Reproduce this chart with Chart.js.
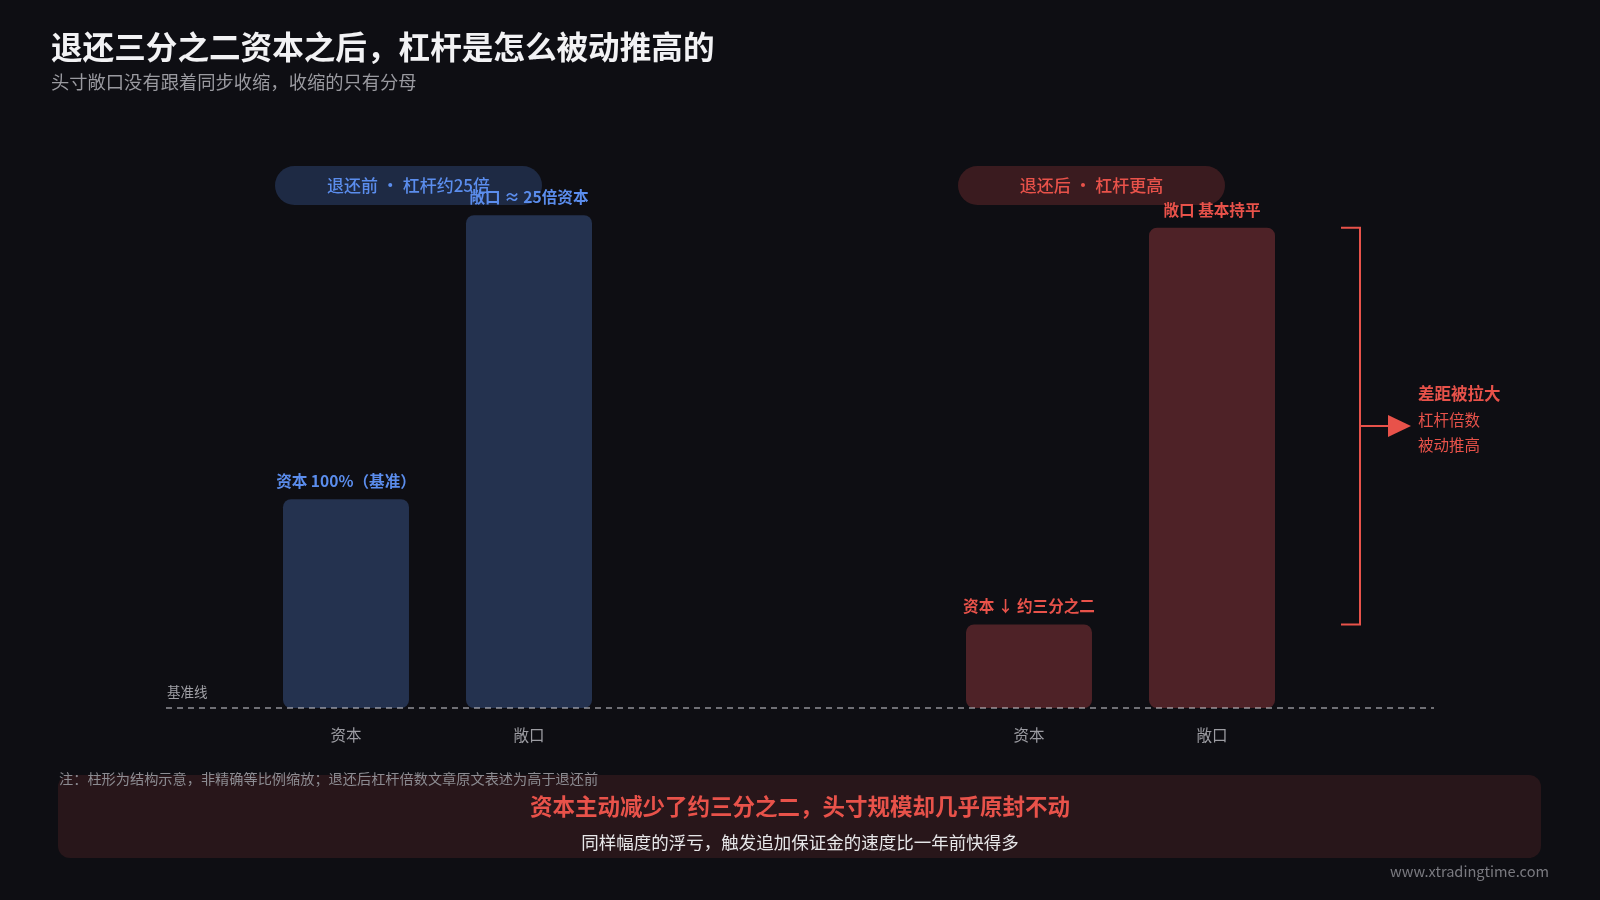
<!DOCTYPE html>
<html lang="zh-CN">
<head>
<meta charset="utf-8">
<title>退还三分之二资本之后，杠杆是怎么被动推高的</title>
<script src="https://cdn.jsdelivr.net/npm/chart.js@4.4.1/dist/chart.umd.min.js"></script>
<style>
  html, body {
    margin: 0;
    padding: 0;
    background: #0e0e13;
    width: 1600px;
    height: 900px;
    overflow: hidden;
    font-family: "Noto Sans CJK SC", "Noto Sans", sans-serif;
  }
  #chart { position: absolute; left: 0; top: 0; }
  .txt { position: absolute; white-space: nowrap; }
  #title { left: 51px; top: 25px; line-height: 40px; font-size: 31.6px; font-weight: 700; color: #f2f2f4; }
  #subtitle { left: 51px; top: 69px; line-height: 24px; font-size: 18.3px; color: #9a9aa0; }
  #banner {
    position: absolute; left: 58px; top: 775px; width: 1483px; height: 83px;
    border-radius: 12px; background: #28161a;
  }
  #banner-main { left: 0; width: 1600px; text-align: center; top: 790px; line-height: 30px; font-size: 22.5px; font-weight: 700; color: #e8524a; }
  #banner-sub { left: 0; width: 1600px; text-align: center; top: 830px; line-height: 24px; font-size: 17.5px; color: #e6e6e8; }
  #note { left: 59px; top: 768px; line-height: 20px; font-size: 14.2px; color: #8c8c92; z-index: 2; }
  #watermark { right: 51px; top: 861px; line-height: 20px; font-size: 14.6px; color: #7a7a80; }
</style>
</head>
<body>
<canvas id="chart" width="1600" height="900"></canvas>
<div id="title" class="txt">退还三分之二资本之后，杠杆是怎么被动推高的</div>
<div id="subtitle" class="txt">头寸敞口没有跟着同步收缩，收缩的只有分母</div>
<div id="banner"></div>
<div id="note" class="txt">注：柱形为结构示意，非精确等比例缩放；退还后杠杆倍数文章原文表述为高于退还前</div>
<div id="banner-main" class="txt">资本主动减少了约三分之二，头寸规模却几乎原封不动</div>
<div id="banner-sub" class="txt">同样幅度的浮亏，触发追加保证金的速度比一年前快得多</div>
<div id="watermark" class="txt">www.xtradingtime.com</div>

<script>
// Data
const categories = ['退还前', '退还后'];
const capitalValues = [100, 40];
const exposureValues = [236, 230];
const barLabels = ['资本', '敞口'];
const capitalNotes = ['资本 100%（基准）', '资本 ↓ 约三分之二'];
const exposureNotes = ['敞口 ≈ 25倍资本', '敞口 基本持平'];
const pillTexts = ['退还前 · 杠杆约25倍', '退还后 · 杠杆更高'];
const gapTexts = ['差距被拉大', '杠杆倍数', '被动推高'];

// Colours (before = blue, after = red)
const barFill = ['#24324f', '#4e2227'];
const accent = ['#5b8ded', '#e8524a'];
const pillFill = ['#1e2a44', '#3a1b1f'];
const FONT = '"Noto Sans CJK SC", "Noto Sans", sans-serif';

function roundRect(ctx, x, y, w, h, r) {
    ctx.beginPath();
    ctx.moveTo(x + r, y);
    ctx.lineTo(x + w - r, y);
    ctx.arcTo(x + w, y, x + w, y + r, r);
    ctx.lineTo(x + w, y + h - r);
    ctx.arcTo(x + w, y + h, x + w - r, y + h, r);
    ctx.lineTo(x + r, y + h);
    ctx.arcTo(x, y + h, x, y + h - r, r);
    ctx.lineTo(x, y + r);
    ctx.arcTo(x, y, x + r, y, r);
    ctx.closePath();
}

// Pills behind the bars
const pillPlugin = {
    id: 'pills',
    beforeDatasetsDraw(chart) {
        const ctx = chart.ctx;
        const xs = chart.scales.x;
        ctx.save();
        categories.forEach((c, i) => {
            const cx = xs.getPixelForValue(i) - 29;
            const w = 267, h = 39, cy = 185.5;
            ctx.fillStyle = pillFill[i];
            roundRect(ctx, cx - w / 2, cy - h / 2, w, h, h / 2);
            ctx.fill();
            ctx.fillStyle = accent[i];
            ctx.font = '500 17px ' + FONT;
            ctx.textAlign = 'center';
            ctx.textBaseline = 'middle';
            ctx.fillText(pillTexts[i], cx, cy);
        });
        ctx.restore();
    }
};

// Baseline, labels, bracket
const annotatePlugin = {
    id: 'annotate',
    afterDatasetsDraw(chart) {
        const ctx = chart.ctx;
        const ys = chart.scales.y;
        const base = ys.getPixelForValue(0);
        ctx.save();

        // dashed baseline
        ctx.strokeStyle = 'rgba(200,200,205,0.7)';
        ctx.lineWidth = 1.5;
        ctx.setLineDash([6, 5]);
        ctx.beginPath();
        ctx.moveTo(166, base);
        ctx.lineTo(1434, base);
        ctx.stroke();
        ctx.setLineDash([]);

        ctx.fillStyle = '#a0a0a6';
        ctx.font = '13.5px ' + FONT;
        ctx.textAlign = 'left';
        ctx.textBaseline = 'middle';
        ctx.fillText('基准线', 167, base - 16);

        const notes = [capitalNotes, exposureNotes];
        chart.data.datasets.forEach((ds, di) => {
            const meta = chart.getDatasetMeta(di);
            meta.data.forEach((bar, i) => {
                // category label below
                ctx.fillStyle = '#9c9ca2';
                ctx.font = '15.5px ' + FONT;
                ctx.textAlign = 'center';
                ctx.textBaseline = 'middle';
                ctx.fillText(barLabels[di], bar.x, base + 27);
                // note above
                ctx.fillStyle = accent[i];
                ctx.font = '600 15.6px ' + FONT;
                ctx.fillText(notes[di][i], bar.x, bar.y - 18);
            });
        });

        // bracket on the "after" group
        const capBar = chart.getDatasetMeta(0).data[1];
        const expBar = chart.getDatasetMeta(1).data[1];
        const top = expBar.y, bottom = capBar.y;
        const bx = expBar.x + expBar.width / 2 + 85;
        const mid = (top + bottom) / 2;
        ctx.strokeStyle = accent[1];
        ctx.fillStyle = accent[1];
        ctx.lineWidth = 2;
        ctx.beginPath();
        ctx.moveTo(bx - 19, top);
        ctx.lineTo(bx, top);
        ctx.lineTo(bx, bottom);
        ctx.lineTo(bx - 19, bottom);
        ctx.moveTo(bx, mid);
        ctx.lineTo(bx + 29, mid);
        ctx.stroke();
        ctx.beginPath();
        ctx.moveTo(bx + 28, mid - 11);
        ctx.lineTo(bx + 51, mid);
        ctx.lineTo(bx + 28, mid + 11);
        ctx.closePath();
        ctx.fill();

        ctx.textAlign = 'left';
        ctx.font = '700 16.5px ' + FONT;
        ctx.fillText(gapTexts[0], bx + 58, mid - 32);
        ctx.font = '15.5px ' + FONT;
        ctx.fillText(gapTexts[1], bx + 58, mid - 6);
        ctx.fillText(gapTexts[2], bx + 58, mid + 19);

        ctx.restore();
    }
};

function init() {
    const ctx = document.getElementById('chart').getContext('2d');
    new Chart(ctx, {
        type: 'bar',
        data: {
            labels: categories,
            datasets: [
                {
                    label: barLabels[0],
                    data: capitalValues,
                    backgroundColor: barFill,
                    borderRadius: 8,
                    borderSkipped: false
                },
                {
                    label: barLabels[1],
                    data: exposureValues,
                    backgroundColor: barFill,
                    borderRadius: 8,
                    borderSkipped: false
                }
            ]
        },
        options: {
            responsive: false,
            animation: false,
            categoryPercentage: 0.5359,
            barPercentage: 0.6885,
            layout: { padding: { left: 96, right: 138, top: 186, bottom: 192 } },
            plugins: {
                legend: { display: false },
                tooltip: { enabled: false }
            },
            scales: {
                x: { display: false },
                y: { display: false, min: 0, max: 250 }
            }
        },
        plugins: [pillPlugin, annotatePlugin]
    });
}

window.addEventListener('DOMContentLoaded', init);
</script>
</body>
</html>
